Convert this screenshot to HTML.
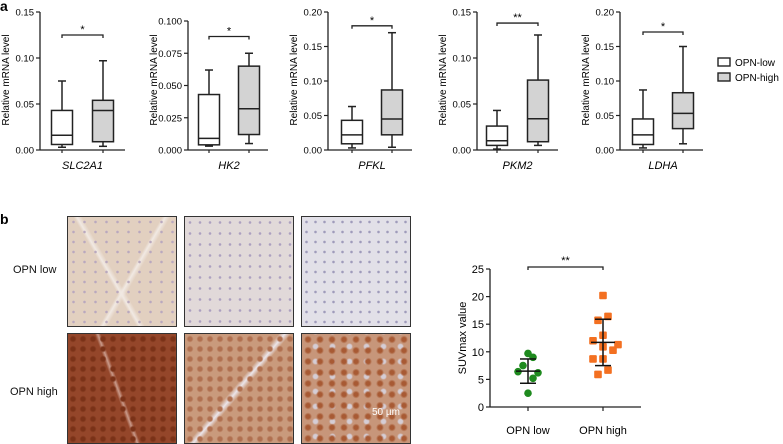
<!DOCTYPE html>
<html><head><meta charset="utf-8"><style>
body{margin:0;background:#fff;}
#root{position:relative;width:783px;height:444px;overflow:hidden;font-family:"Liberation Sans",sans-serif;}
svg{position:absolute;left:0;top:0;}
.tis{position:absolute;border:1.5px solid #333;box-sizing:border-box;}
.lbl{position:absolute;font-size:11px;color:#111;}
</style></head><body>
<div id="root">
<svg id="chart" width="783" height="444"></svg>
<div class="lbl" style="left:13px;top:264px">OPN low</div>
<div class="lbl" style="left:10px;top:386px">OPN high</div>
<div class="tis" style="left:67px;top:216px;width:110px;height:111px;background:radial-gradient(circle,#b9a8be 1px,transparent 1.6px) 0 0/11px 10px,linear-gradient(60deg,transparent 40%,#f1e9e3 42%,transparent 45%),linear-gradient(120deg,transparent 55%,#f1e9e3 57%,transparent 60%),#e2d0c0"></div>
<div class="tis" style="left:184px;top:216px;width:110px;height:111px;background:radial-gradient(circle,#aca0c0 1px,transparent 1.6px) 0 0/10px 11px,#e1d9d9"></div>
<div class="tis" style="left:301px;top:216px;width:110px;height:111px;background:radial-gradient(circle,#9f9bbb 1px,transparent 1.6px) 0 0/9px 10px,#e2e0e8"></div>
<div class="tis" style="left:67px;top:333px;width:110px;height:111px;background:radial-gradient(circle,#7a3218 2px,transparent 3.5px) 0 0/10px 10px,linear-gradient(70deg,transparent 45%,#c99a8a 47%,transparent 49%),#94462a"></div>
<div class="tis" style="left:184px;top:333px;width:110px;height:111px;background:radial-gradient(circle,#b07050 2px,transparent 3.5px) 0 0/10px 10px,linear-gradient(130deg,transparent 47%,#ebe5ea 50%,transparent 53%),#c99a7c"></div>
<div class="tis" style="left:301px;top:333px;width:110px;height:111px;background:radial-gradient(circle,#a85a34 2px,transparent 4px) 0 0/12px 11px,radial-gradient(circle,#d5cdd5 2px,transparent 3.5px) 5px 5px/17px 15px,#c7967a"></div>
<div class="lbl" style="left:372px;top:407px;font-size:10px;color:#fff">50 µm</div>
</div>
<script>
// Panel a data
const genes = ["SLC2A1","HK2","PFKL","PKM2","LDHA"];
const yMaxes = [0.15,0.1,0.2,0.15,0.2];
const tickLabels = [["0.00","0.05","0.10","0.15"],["0.000","0.025","0.050","0.075","0.100"],["0.00","0.05","0.10","0.15","0.20"],["0.00","0.05","0.10","0.15"],["0.00","0.05","0.10","0.15","0.20"]];
// [whiskerLow, q1, median, q3, whiskerHigh]
const lowStats = [[0.003,0.006,0.016,0.043,0.075],[0.003,0.004,0.009,0.043,0.062],[0.003,0.009,0.022,0.043,0.063],[0.001,0.005,0.010,0.026,0.043],[0.003,0.008,0.022,0.045,0.087]];
const highStats = [[0.004,0.009,0.043,0.054,0.097],[0.005,0.012,0.032,0.065,0.075],[0.004,0.022,0.045,0.087,0.170],[0.005,0.009,0.034,0.076,0.125],[0.009,0.031,0.053,0.083,0.150]];
const sigLevels = [0.125,0.088,0.18,0.138,0.171];
const sigLabels = ["*","*","*","**","*"];
// Panel b scatter data
const scatterCats = ["OPN low","OPN high"];
const lowVals = [9.7,9.0,7.5,6.4,6.2,5.2,2.5];
const lowJitter = [0,1,-1,-2,2,1,0];
const highVals = [20.2,16.4,15.7,13.0,12.0,11.3,10.9,10.3,8.7,8.7,6.7,5.9];
const highJitter = [0,1,-1,0,-2,3,0,2,-2,0,1,-1];
const summaryMean = [6.5,11.7];
const summarySD = [2.2,4.2];
const suvTicks = [0,5,10,15,20,25];

const NS="http://www.w3.org/2000/svg";
const svg=document.getElementById('chart');
function el(tag,attrs,parent){const e=document.createElementNS(NS,tag);for(const k in attrs)e.setAttribute(k,attrs[k]);(parent||svg).appendChild(e);return e;}
function txt(s,attrs,parent){const t=el('text',attrs,parent);t.textContent=s;return t;}

const axisX=[40,188,328,477,620], topY=[12,21,12,12,12], botY=150, axEnd=[125,268,412,558,703];
const lbX=[62,209,352,497,643], hbX=[103,249,392,538,683];
txt("a",{x:0,y:11,'font-size':14,'font-weight':'bold','font-family':'Liberation Sans'});
genes.forEach((g,i)=>{
  const grp=el('g',{});
  
  
  const y=v=>botY-(v/yMaxes[i])*(botY-topY[i]);
  el('line',{x1:axisX[i],y1:topY[i],x2:axisX[i],y2:botY,stroke:'#222','stroke-width':1.3},grp);
  el('line',{x1:axisX[i],y1:botY,x2:axEnd[i],y2:botY,stroke:'#222','stroke-width':1.3},grp);
  const n=tickLabels[i].length;
  tickLabels[i].forEach((t,k)=>{const v=yMaxes[i]*k/(n-1);const yy=y(v);
    el('line',{x1:axisX[i]-4,y1:yy,x2:axisX[i],y2:yy,stroke:'#222','stroke-width':1.2},grp);
    const tt=txt(t,{x:axisX[i]-6,y:yy+3.5,'font-size':9.5,'text-anchor':'end','font-family':'Liberation Sans'},grp);
    });
  const yt=txt("Relative mRNA level",{x:0,y:0,'font-size':10,'text-anchor':'middle','font-family':'Liberation Sans',transform:`translate(${axisX[i]-31},80) rotate(-90)`},grp);
  
  [[lowStats[i],lbX[i],'#fff'],[highStats[i],hbX[i],'#d3d3d3']].forEach(([s,cx,f])=>{
    el('line',{x1:cx,y1:botY,x2:cx,y2:botY+3,stroke:'#222','stroke-width':1.2},grp);
    el('line',{x1:cx,y1:y(s[0]),x2:cx,y2:y(s[4]),stroke:'#222','stroke-width':1.5},grp);
    el('line',{x1:cx-4,y1:y(s[0]),x2:cx+4,y2:y(s[0]),stroke:'#222','stroke-width':1.5},grp);
    el('line',{x1:cx-4,y1:y(s[4]),x2:cx+4,y2:y(s[4]),stroke:'#222','stroke-width':1.5},grp);
    const b=el('rect',{x:cx-10.5,y:y(s[3]),width:21,height:y(s[1])-y(s[3]),fill:f,stroke:'#222','stroke-width':1.5},grp);
    
    el('line',{x1:cx-10.5,y1:y(s[2]),x2:cx+10.5,y2:y(s[2]),stroke:'#222','stroke-width':1.5},grp);
  });
  const sy=y(sigLevels[i]);
  el('path',{d:`M${lbX[i]},${sy+3}V${sy}H${hbX[i]}V${sy+3}`,fill:'none',stroke:'#222','stroke-width':1.3},grp);
  txt(sigLabels[i],{x:(lbX[i]+hbX[i])/2,y:sy-2,'font-size':11,'text-anchor':'middle','font-family':'Liberation Sans'},grp);
  const xl=txt(g,{x:(lbX[i]+hbX[i])/2,y:169,'font-size':11,'font-style':'italic','text-anchor':'middle','font-family':'Liberation Sans'},grp);
  
});
// legend
const lg=el('g',{});


el('rect',{x:718,y:58,width:12,height:8,fill:'#fff',stroke:'#222','stroke-width':1.4},lg);
txt("OPN-low",{x:735,y:66,'font-size':10,'font-family':'Liberation Sans'},lg);
el('rect',{x:718,y:73,width:12,height:8,fill:'#d3d3d3',stroke:'#222','stroke-width':1.4},lg);
txt("OPN-high",{x:735,y:81,'font-size':10,'font-family':'Liberation Sans'},lg);

txt("b",{x:0,y:224,'font-size':14,'font-weight':'bold','font-family':'Liberation Sans'});
// scale bars
[[145,312],[262,312],[377,312],[145,429],[262,429],[374,429]].forEach(([x,y])=>{const r=el('rect',{x:x,y:y,width:24,height:3,fill:'#111'});});

// scatter
const sg=el('g',{});


const sx0=490,sTop=269,sBot=407,sxEnd=641,gx=[528,603];
const sy=v=>sBot-(v/25)*(sBot-sTop);
el('line',{x1:sx0,y1:sTop,x2:sx0,y2:sBot,stroke:'#222','stroke-width':1.3},sg);
el('line',{x1:sx0,y1:sBot,x2:sxEnd,y2:sBot,stroke:'#222','stroke-width':1.3},sg);
suvTicks.forEach(t=>{el('line',{x1:sx0-4,y1:sy(t),x2:sx0,y2:sy(t),stroke:'#222','stroke-width':1.2},sg);
  txt(String(t),{x:sx0-6,y:sy(t)+4,'font-size':11,'text-anchor':'end','font-family':'Liberation Sans'},sg);});
txt("SUVmax value",{x:0,y:0,'font-size':11,'text-anchor':'middle','font-family':'Liberation Sans',transform:'translate(466,338) rotate(-90)'},sg);
scatterCats.forEach((c,i)=>{el('line',{x1:gx[i],y1:sBot,x2:gx[i],y2:sBot+4,stroke:'#222','stroke-width':1.2},sg);
  txt(c,{x:gx[i],y:434,'font-size':11,'text-anchor':'middle','font-family':'Liberation Sans'},sg);});
lowVals.forEach((v,k)=>{const p=el('circle',{cx:gx[0]+lowJitter[k]*5,cy:sy(v),r:3.8,fill:'#1e8a1e'},sg);});
highVals.forEach((v,k)=>{const p=el('rect',{x:gx[1]+highJitter[k]*5-3.8,y:sy(v)-3.8,width:7.6,height:7.6,rx:1,fill:'#f37021'},sg);});
[0,1].forEach(i=>{const m=summaryMean[i],s=summarySD[i];
  el('line',{x1:gx[i]-12,y1:sy(m),x2:gx[i]+12,y2:sy(m),stroke:'#111','stroke-width':1.5},sg);
  el('line',{x1:gx[i],y1:sy(m-s),x2:gx[i],y2:sy(m+s),stroke:'#111','stroke-width':1.5},sg);
  el('line',{x1:gx[i]-8,y1:sy(m-s),x2:gx[i]+8,y2:sy(m-s),stroke:'#111','stroke-width':1.5},sg);
  el('line',{x1:gx[i]-8,y1:sy(m+s),x2:gx[i]+8,y2:sy(m+s),stroke:'#111','stroke-width':1.5},sg);});
el('path',{d:`M${gx[0]},270V267H${gx[1]}V270`,fill:'none',stroke:'#222','stroke-width':1.3},sg);
txt("**",{x:(gx[0]+gx[1])/2,y:264,'font-size':11,'text-anchor':'middle','font-family':'Liberation Sans'},sg);
</script>
</body></html>
